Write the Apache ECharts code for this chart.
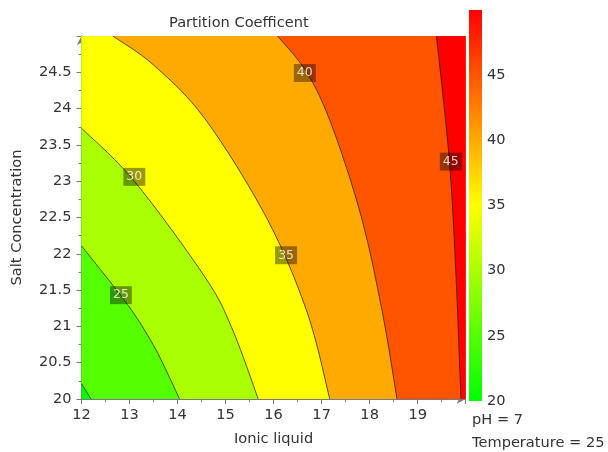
<!DOCTYPE html>
<html>
<head>
<meta charset="utf-8">
<script src="https://cdn.jsdelivr.net/npm/echarts@6/dist/echarts.min.js"></script>
<style>
  html, body { margin: 0; padding: 0; background: #fff; }
  #chart { width: 608px; height: 452px; }
</style>
</head>
<body>
<div id="chart"></div>
<script>
// Contour levels of the partition coefficient and the traced iso-lines
// (Ionic liquid, Salt Concentration), ordered from the left/top edge to the bottom/right edge.
const levels = [20, 25, 30, 35, 40, 45];
const contour20 = [[12, 20.21], [12.2, 20]];
const contour25 = [[12, 22.11], [12.96, 21.30], [13.49, 20.75], [13.83, 20.30], [14.04, 20]];
const contour30 = [[12, 23.73], [13.10, 23.0], [14.57, 21.68], [15.13, 20.98], [15.68, 20]];
const contour35 = [[12.65, 25], [13.5, 24.6], [14.57, 23.86], [15.85, 22.5], [16.69, 21.21], [17.17, 20]];
const contour40 = [[16.08, 25], [16.69, 24.50], [17.21, 23.77], [17.83, 22.5], [18.26, 21.21], [18.57, 20]];
const contour45 = [[19.39, 25], [19.66, 23.28], [19.80, 21.66], [19.90, 20]];
const contours = [contour20, contour25, contour30, contour35, contour40, contour45];

// Positions of the level labels: [Ionic liquid, Salt Concentration, level]
const levelLabels = [[12.82, 21.43, 25], [13.10, 23.06, 30], [16.26, 21.98, 35], [16.65, 24.49, 40], [19.69, 23.27, 45]];

// Colour bar stops: [value, colour]
const colorStops = [[20, '#00ff00'], [35, '#ffff00'], [50, '#ff0000']];
const colorbarTicks = [20, 25, 30, 35, 40, 45];

const xRange = [12, 20];
const yRange = [20, 25];
const zRange = [20, 50];

const titleText = 'Partition Coefficent';
const xName = 'Ionic liquid';
const yName = 'Salt Concentration';
const notes = ['pH = 7', 'Temperature = 25'];

const FONT = 'DejaVu Sans, Verdana, sans-serif';
const FS = 14.6;
const TEXT = '#333333';
const AXIS = '#7a7a7a';

function hexToRgb(h) {
  return [parseInt(h.slice(1, 3), 16), parseInt(h.slice(3, 5), 16), parseInt(h.slice(5, 7), 16)];
}
function colorAt(v) {
  for (let i = 0; i < colorStops.length - 1; i++) {
    const [v0, c0] = colorStops[i], [v1, c1] = colorStops[i + 1];
    if (v <= v1 || i === colorStops.length - 2) {
      const t = Math.max(0, Math.min(1, (v - v0) / (v1 - v0)));
      const a = hexToRgb(c0), b = hexToRgb(c1);
      const m = a.map((x, k) => Math.round(x + (b[k] - x) * t));
      return 'rgb(' + m.join(',') + ')';
    }
  }
}

// Smooth curve through pixel points (Catmull-Rom converted to cubic Bezier)
function curvePath(px) {
  let d = 'M' + px[0][0] + ' ' + px[0][1];
  for (let i = 0; i < px.length - 1; i++) {
    const p0 = px[i - 1] || px[i], p1 = px[i], p2 = px[i + 1], p3 = px[i + 2] || px[i + 1];
    const c1 = [p1[0] + (p2[0] - p0[0]) / 6, p1[1] + (p2[1] - p0[1]) / 6];
    const c2 = [p2[0] - (p3[0] - p1[0]) / 6, p2[1] - (p3[1] - p1[1]) / 6];
    d += ' C' + c1[0] + ' ' + c1[1] + ' ' + c2[0] + ' ' + c2[1] + ' ' + p2[0] + ' ' + p2[1];
  }
  return d;
}

const chart = echarts.init(document.getElementById('chart'), null, { renderer: 'canvas' });

// index 0 = region below the lowest level, i+1 = region above levels[i]
const bandItems = [0].concat(levels.map((l, i) => i + 1));

const option = {
  animation: false,
  textStyle: { fontFamily: FONT },
  title: {
    text: titleText,
    left: 164, top: 11,
    textStyle: { fontSize: FS, fontWeight: 'normal', color: TEXT, fontFamily: FONT }
  },
  graphic: notes.map((t, i) => ({
    type: 'text', left: 472, top: 413 + i * 23,
    style: { text: t, fontSize: FS, fill: TEXT, fontFamily: FONT }
  })),
  grid: [
    { left: 81.5, right: 142.3, top: 36, bottom: 48 },
    { left: 469, width: 13, top: 10, height: 391 }
  ],
  xAxis: [
    {
      type: 'value', min: xRange[0], max: xRange[1], interval: 1,
      name: xName, nameLocation: 'middle', nameGap: 33,
      nameTextStyle: { fontSize: FS, color: TEXT, fontFamily: FONT },
      axisLine: { show: true, onZero: false, symbol: ['none', 'arrow'], symbolSize: [7, 9], lineStyle: { color: AXIS, width: 1 } },
      axisTick: { show: true, length: 5, lineStyle: { color: AXIS } },
      minorTick: { show: true, splitNumber: 2, length: 3, lineStyle: { color: AXIS } },
      axisLabel: { fontSize: FS, color: TEXT, margin: 9, showMaxLabel: false, fontFamily: FONT },
      splitLine: { show: false }, minorSplitLine: { show: false }
    },
    { type: 'value', gridIndex: 1, min: 0, max: 1, show: false }
  ],
  yAxis: [
    {
      type: 'value', min: yRange[0], max: yRange[1], interval: 0.5,
      name: yName, nameLocation: 'middle', nameGap: 57, nameRotate: 90,
      nameTextStyle: { fontSize: FS, color: TEXT, fontFamily: FONT },
      axisLine: { show: true, onZero: false, symbol: ['none', 'arrow'], symbolSize: [7, 9], lineStyle: { color: AXIS, width: 1 } },
      axisTick: { show: true, length: 5, lineStyle: { color: AXIS } },
      minorTick: { show: true, splitNumber: 2, length: 3, lineStyle: { color: AXIS } },
      axisLabel: { fontSize: FS, color: TEXT, margin: 10, showMaxLabel: false, fontFamily: FONT },
      splitLine: { show: false }, minorSplitLine: { show: false }
    },
    {
      type: 'value', gridIndex: 1, min: zRange[0], max: zRange[1], interval: 5, position: 'right',
      axisLine: { show: false }, axisTick: { show: false }, splitLine: { show: false },
      axisLabel: {
        fontSize: FS, color: TEXT, margin: 5, fontFamily: FONT,
        formatter: v => (colorbarTicks.indexOf(v) >= 0 ? String(v) : '')
      }
    }
  ],
  series: [
    {
      // filled bands
      type: 'custom', silent: true, xAxisIndex: 0, yAxisIndex: 0,
      data: bandItems,
      renderItem: function (params, api) {
        const k = api.value(0);
        const bl = api.coord([xRange[0], yRange[0]]);
        const tr = api.coord([xRange[1], yRange[1]]);
        if (k === 0) {
          return {
            type: 'rect',
            shape: { x: bl[0], y: tr[1], width: tr[0] - bl[0], height: bl[1] - tr[1] },
            style: { fill: colorAt(levels[0]) }
          };
        }
        const pts = contours[k - 1];
        const px = pts.map(p => api.coord(p));
        let d = curvePath(px);
        d += ' L' + tr[0] + ' ' + bl[1] + ' L' + tr[0] + ' ' + tr[1];
        if (pts[0][1] < yRange[1]) d += ' L' + bl[0] + ' ' + tr[1];
        d += ' Z';
        return {
          type: 'path',
          shape: { pathData: d },
          style: { fill: colorAt(levels[k - 1] + 5) }
        };
      },
      z: 1
    },
    {
      // iso-lines
      type: 'custom', silent: true, xAxisIndex: 0, yAxisIndex: 0,
      data: levels.map((l, i) => i),
      renderItem: function (params, api) {
        const px = contours[api.value(0)].map(p => api.coord(p));
        return {
          type: 'path',
          shape: { pathData: curvePath(px) },
          style: { fill: null, stroke: 'rgba(40,30,0,0.75)', lineWidth: 1 }
        };
      },
      z: 2
    },
    {
      // level labels
      type: 'scatter', silent: true, xAxisIndex: 0, yAxisIndex: 0,
      data: levelLabels,
      symbol: 'rect', symbolSize: [22, 18],
      itemStyle: { color: 'rgba(0,0,0,0.5)' },
      label: {
        show: true, position: 'inside', formatter: p => String(p.value[2]),
        color: '#ffffff', fontSize: 12.5, fontFamily: FONT
      },
      z: 3
    },
    {
      // colour bar
      type: 'custom', silent: true, xAxisIndex: 1, yAxisIndex: 1,
      data: [[0, zRange[0], zRange[1]]],
      renderItem: function (params, api) {
        const top = api.coord([0, api.value(2)]);
        const bot = api.coord([1, api.value(1)]);
        return {
          type: 'rect',
          shape: { x: top[0], y: top[1], width: bot[0] - top[0], height: bot[1] - top[1] },
          style: {
            fill: {
              type: 'linear', x: 0, y: 0, x2: 0, y2: 1,
              colorStops: colorStops.map(s => ({ offset: (zRange[1] - s[0]) / (zRange[1] - zRange[0]), color: s[1] }))
            }
          }
        };
      }
    }
  ]
};

chart.setOption(option);
</script>
</body>
</html>
